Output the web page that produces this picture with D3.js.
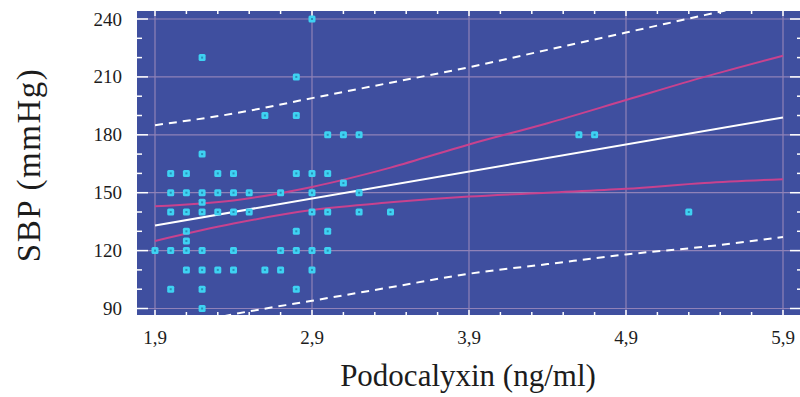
<!DOCTYPE html>
<html>
<head>
<meta charset="utf-8">
<script src="https://cdn.jsdelivr.net/npm/d3@7"></script>
<style>
  body { margin: 0; background: #fff; }
  svg { display: block; }
</style>
</head>
<body>
<svg id="chart" width="800" height="397"></svg>
<script>
// x values in ng/ml, y values in mmHg
const xTicks = [1.9, 2.9, 3.9, 4.9, 5.9];
const xTickLabels = ["1,9", "2,9", "3,9", "4,9", "5,9"];
const yTicks = [90, 120, 150, 180, 210, 240];

const pointsX = [
  1.9,
  2.0, 2.0, 2.0, 2.0, 2.0,
  2.1, 2.1, 2.1, 2.1, 2.1, 2.1, 2.1,
  2.2, 2.2, 2.2, 2.2, 2.2, 2.2, 2.2, 2.2, 2.2,
  2.3, 2.3, 2.3, 2.3,
  2.4, 2.4, 2.4, 2.4, 2.4,
  2.5, 2.5,
  2.6, 2.6,
  2.7, 2.7, 2.7,
  2.8, 2.8, 2.8, 2.8, 2.8, 2.8,
  2.9, 2.9, 2.9, 2.9, 2.9, 2.9,
  3.0, 3.0, 3.0, 3.0, 3.0,
  3.1, 3.1,
  3.2, 3.2, 3.2,
  3.4,
  4.6, 4.7,
  5.3
];
const pointsY = [
  120,
  160, 150, 140, 120, 100,
  160, 150, 140, 130, 125, 120, 110,
  220, 170, 150, 145, 140, 120, 110, 100, 90,
  160, 150, 140, 110,
  160, 150, 140, 120, 110,
  150, 140,
  190, 110,
  150, 120, 110,
  210, 190, 160, 130, 120, 100,
  240, 160, 150, 140, 120, 110,
  180, 160, 140, 130, 120,
  180, 155,
  180, 150, 140,
  140,
  180, 180,
  140
];

// regression line and bands
const regX = [1.9, 5.9];
const regY = [133, 189];
const bandX = [1.9, 2.4, 2.9, 3.4, 3.9, 4.4, 4.9, 5.4, 5.9];
const confUpper = [143, 146, 153, 163, 175, 186, 198, 210, 221];
const confLower = [125, 134, 141, 145, 148, 150, 152, 155, 157];
const predUpper = [185, 191, 199, 207, 215, 224, 233, 242, 251];
const predLower = [78, 87, 94, 101, 108, 113, 118, 122, 127];

const svg = d3.select("#chart");

const plot = { left: 137, right: 801, top: 11, bottom: 315 };
const x = d3.scaleLinear().domain([1.9, 5.9]).range([155, 783]);
const y = d3.scaleLinear().domain([90, 240]).range([308.5, 19]);

const blue = "#3f4f9f";
const grid = "#8f82b8";
const magenta = "#c8428e";
const cyan = "#3ed2f2";

svg.append("defs").append("clipPath").attr("id", "clip")
  .append("rect")
  .attr("x", plot.left).attr("y", plot.top)
  .attr("width", plot.right - plot.left).attr("height", plot.bottom - plot.top);

svg.append("rect")
  .attr("x", plot.left).attr("y", plot.top)
  .attr("width", plot.right - plot.left).attr("height", plot.bottom - plot.top)
  .attr("fill", blue);

const g = svg.append("g").attr("clip-path", "url(#clip)");

// grid lines
g.selectAll("line.vgrid").data(xTicks).enter().append("line")
  .attr("x1", d => x(d)).attr("x2", d => x(d))
  .attr("y1", plot.top).attr("y2", plot.bottom)
  .attr("stroke", grid).attr("stroke-width", 1.2);
g.selectAll("line.hgrid").data(yTicks).enter().append("line")
  .attr("y1", d => y(d)).attr("y2", d => y(d))
  .attr("x1", plot.left).attr("x2", plot.right)
  .attr("stroke", grid).attr("stroke-width", 1.2);

// tick marks, pointing into the plot
const yMinor = d3.range(90, 241, 10);
const xMinor = d3.range(0, 21).map(i => 1.9 + i * 0.2);
const isMajorY = d => d % 30 === 0;
const isMajorX = d => xTicks.some(t => Math.abs(t - d) < 1e-6);

g.selectAll("line.ytl").data(yMinor).enter().append("line")
  .attr("x1", plot.left).attr("x2", d => plot.left + (isMajorY(d) ? 11 : 5))
  .attr("y1", d => y(d)).attr("y2", d => y(d))
  .attr("stroke", "#fff").attr("stroke-width", 1.5);
g.selectAll("line.ytr").data(yMinor).enter().append("line")
  .attr("x1", plot.right).attr("x2", d => plot.right - (isMajorY(d) ? 11 : 4))
  .attr("y1", d => y(d)).attr("y2", d => y(d))
  .attr("stroke", "#fff").attr("stroke-width", 1.5);
g.selectAll("line.xtt").data(xMinor).enter().append("line")
  .attr("x1", d => x(d)).attr("x2", d => x(d))
  .attr("y1", plot.top).attr("y2", d => plot.top + (isMajorX(d) ? 5 : 3))
  .attr("stroke", "#fff").attr("stroke-width", 1.5);
g.selectAll("line.xtb").data(xMinor).enter().append("line")
  .attr("x1", d => x(d)).attr("x2", d => x(d))
  .attr("y1", plot.bottom).attr("y2", d => plot.bottom - (isMajorX(d) ? 5 : 3))
  .attr("stroke", "#fff").attr("stroke-width", 1.5);

// bands and regression line
const bandLine = vals => d3.line()
  .x((d, i) => x(bandX[i]))
  .y((d, i) => y(vals[i]))
  .curve(d3.curveMonotoneX)(vals);

[predUpper, predLower].forEach(vals => {
  g.append("path").attr("d", bandLine(vals))
    .attr("fill", "none").attr("stroke", "#fff")
    .attr("stroke-width", 2).attr("stroke-dasharray", "8,6");
});
[confUpper, confLower].forEach(vals => {
  g.append("path").attr("d", bandLine(vals))
    .attr("fill", "none").attr("stroke", magenta).attr("stroke-width", 2);
});
g.append("path")
  .attr("d", d3.line().x((d, i) => x(regX[i])).y((d, i) => y(regY[i]))(regX))
  .attr("fill", "none").attr("stroke", "#fff").attr("stroke-width", 2);

// data points
const pts = g.selectAll("g.pt").data(pointsX).enter().append("g")
  .attr("transform", (d, i) => `translate(${x(d)},${y(pointsY[i])})`);
pts.append("rect")
  .attr("x", -3.5).attr("y", -3.5).attr("width", 7).attr("height", 7)
  .attr("rx", 1.5).attr("fill", cyan);
pts.append("rect")
  .attr("x", -1).attr("y", -1).attr("width", 2).attr("height", 2)
  .attr("fill", "#2a8fb8");

// tick labels
const font = "'Liberation Serif', 'Times New Roman', serif";
svg.append("g").selectAll("text").data(yTicks).enter().append("text")
  .attr("x", 122).attr("y", d => y(d) + 6.5)
  .attr("text-anchor", "end")
  .attr("font-family", font).attr("font-size", 19).attr("fill", "#1c1c1c")
  .text(d => d);
svg.append("g").selectAll("text").data(xTicks).enter().append("text")
  .attr("x", d => x(d)).attr("y", 344)
  .attr("text-anchor", "middle")
  .attr("font-family", font).attr("font-size", 19).attr("fill", "#1c1c1c")
  .text((d, i) => xTickLabels[i]);

// axis titles
svg.append("text")
  .attr("x", 468).attr("y", 386)
  .attr("text-anchor", "middle")
  .attr("font-family", font).attr("font-size", 31).attr("fill", "#1c1c1c")
  .text("Podocalyxin (ng/ml)");
svg.append("text")
  .attr("transform", "translate(40,165) rotate(-90)")
  .attr("text-anchor", "middle")
  .attr("font-family", font).attr("font-size", 33).attr("letter-spacing", 1.5)
  .attr("fill", "#1c1c1c")
  .text("SBP (mmHg)");
</script>
</body>
</html>
